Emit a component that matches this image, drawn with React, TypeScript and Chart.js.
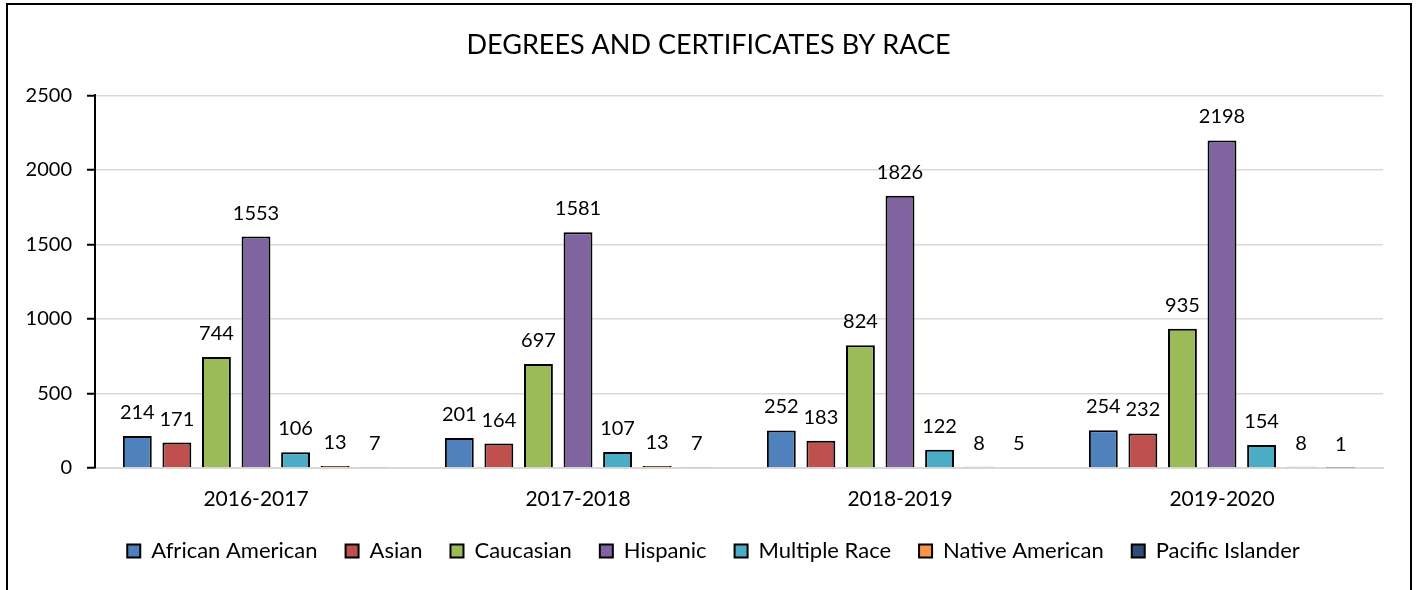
import React, { useEffect, useRef } from "react";
import { Chart, registerables } from "chart.js";

Chart.register(...registerables);

const categories = ["2016-2017", "2017-2018", "2018-2019", "2019-2020"];
const seriesNames = [
  "African American",
  "Asian",
  "Caucasian",
  "Hispanic",
  "Multiple Race",
  "Native American",
  "Pacific Islander",
];
const africanAmerican = [214, 201, 252, 254];
const asian = [171, 164, 183, 232];
const caucasian = [744, 697, 824, 935];
const hispanic = [1553, 1581, 1826, 2198];
const multipleRace = [106, 107, 122, 154];
const nativeAmerican = [13, 13, 8, 8];
const pacificIslander = [7, 7, 5, 1];
const yTicks = [0, 500, 1000, 1500, 2000, 2500];

const seriesValues = [
  africanAmerican,
  asian,
  caucasian,
  hispanic,
  multipleRace,
  nativeAmerican,
  pacificIslander,
];
const seriesColors = [
  "#4F81BD",
  "#C0504D",
  "#9BBB59",
  "#8064A2",
  "#4BACC6",
  "#F79646",
  "#2C4D75",
];

const FONT = "Lato";

const dataLabelPlugin = {
  id: "dataLabels",
  afterDatasetsDraw(chart: any) {
    const ctx = chart.ctx;
    ctx.save();
    ctx.font = `20px ${FONT}`;
    ctx.fillStyle = "#000";
    ctx.textAlign = "center";
    ctx.textBaseline = "alphabetic";
    chart.data.datasets.forEach((ds: any, i: number) => {
      const meta = chart.getDatasetMeta(i);
      meta.data.forEach((bar: any, j: number) => {
        ctx.fillText(String(ds.data[j]), bar.x, bar.y - 17);
      });
    });
    ctx.restore();
  },
};

// Center legend and title on the full chart box like the original
const centerBlocksPlugin = {
  id: "centerBlocks",
  afterLayout(chart: any) {
    if (chart.legend) {
      chart.legend.left += 22;
      chart.legend.right += 22;
    }
    if (chart.titleBlock) {
      chart.titleBlock.left += 17;
      chart.titleBlock.right += 17;
    }
  },
};

export default function App() {
  const ref = useRef<HTMLCanvasElement | null>(null);

  useEffect(() => {
    if (!ref.current) return;
    const chart = new Chart(ref.current, {
      type: "bar",
      data: {
        labels: categories,
        datasets: seriesNames.map((name, i) => ({
          label: name,
          data: seriesValues[i],
          backgroundColor: seriesColors[i],
          borderColor: "#000",
          borderWidth: 2,
          categoryPercentage: 0.86,
          barPercentage: 0.73,
        })),
      },
      options: {
        responsive: false,
        animation: false,
        layout: { padding: { left: 0, right: 35, top: 0, bottom: 18 } },
        scales: {
          x: {
            grid: { display: false, drawTicks: false, tickLength: 0 },
            border: { display: true, color: "#D9D9D9", width: 2 },
            ticks: {
              color: "#000",
              font: { family: FONT, size: 21 },
              padding: 19,
            },
            afterFit: (s: any) => {
              s.height = 44;
            },
          },
          y: {
            min: 0,
            max: 2500,
            afterBuildTicks: (s: any) => {
              s.ticks = yTicks.map((v) => ({ value: v }));
            },
            grid: {
              color: "#D9D9D9",
              lineWidth: 1.5,
              tickColor: "#000",
              tickLength: 8,
              tickWidth: 2,
            },
            border: { display: true, color: "#000", width: 2 },
            ticks: {
              color: "#000",
              font: { family: FONT, size: 20 },
              padding: 15,
              callback: (v: any) => String(v),
            },
            afterFit: (s: any) => {
              s.width = 95;
            },
          },
        },
        plugins: {
          title: {
            display: true,
            text: "DEGREES AND CERTIFICATES BY RACE",
            color: "#000",
            font: { family: FONT, size: 27, weight: "normal" },
            padding: { top: 29, bottom: 34 },
          },
          legend: {
            position: "bottom",
            labels: {
              color: "#000",
              font: { family: FONT, size: 22 },
              boxWidth: 13,
              boxHeight: 13,
              padding: 28,
            },
          },
          tooltip: { enabled: false },
        },
      },
      plugins: [dataLabelPlugin, centerBlocksPlugin],
    });
    return () => chart.destroy();
  }, []);

  return (
    <div style={{ position: "absolute", left: 0, top: 0, width: 1418, height: 590, overflow: "hidden", background: "#fff" }}>
      <canvas ref={ref} width={1418} height={590} style={{ position: "absolute", left: 0, top: 0, width: 1418, height: 590 }} />
      <div
        style={{
          position: "absolute",
          left: 6,
          top: 3,
          width: 1406,
          height: 700,
          border: "2px solid #000",
          boxSizing: "border-box",
          pointerEvents: "none",
        }}
      />
    </div>
  );
}
